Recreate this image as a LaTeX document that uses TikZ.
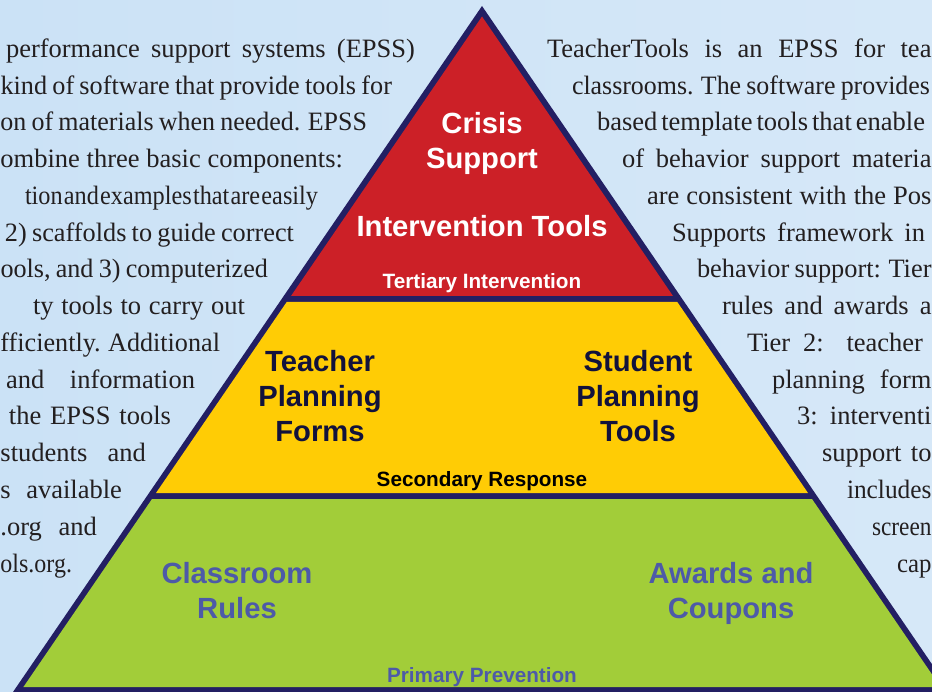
\documentclass[tikz,border=0pt]{standalone}
\usepackage{fontspec}
\setmainfont{Liberation Serif}
\newfontfamily\labelfont{Liberation Sans}[BoldFont={Liberation Sans Bold}]
\definecolor{navy}{RGB}{35,31,99}
\definecolor{tierred}{RGB}{204,32,39}
\definecolor{tieryellow}{RGB}{255,204,5}
\definecolor{tiergreen}{RGB}{162,205,57}
\definecolor{bgleft}{RGB}{203,226,246}
\definecolor{bgright}{RGB}{214,232,248}
\definecolor{bodyink}{RGB}{35,31,32}
\definecolor{dkink}{RGB}{18,18,60}
\definecolor{bluelabel}{RGB}{77,90,168}
\tikzset{
  bodyline/.style={inner sep=0pt,outer sep=0pt,anchor=base west,text=bodyink,font=\fontsize{26.5}{30}\selectfont},
  biglabel/.style={inner sep=0pt,align=center,font=\labelfont\bfseries\fontsize{29.2}{35}\selectfont},
  smalllabel/.style={inner sep=0pt,anchor=base,font=\labelfont\bfseries\fontsize{20.7}{24}\selectfont},
}
\newsavebox{\linebox}
\newlength{\targetwd}
\newcommand{\tightwords}{\spaceskip=0.05em plus 3em\relax}
% fit one line to a width: stretch the spaces, or narrow it when it is too long
\newcommand{\fitline}[1]{%
  \sbox{\linebox}{\spaceskip=0.2em\relax #1}%
  \ifdim\wd\linebox>\targetwd
    \pgfmathsetmacro{\lineratio}{\targetwd/\wd\linebox}%
    \scalebox{\lineratio}[1]{\usebox{\linebox}}%
  \else
    \hbox to \targetwd{\spaceskip=0.2em plus 3em\relax #1}%
  \fi}
% name, left x, right x, line index, text
\newcommand{\textline}[5]{%
  \pgfmathsetmacro{\linebl}{57.5+36.75*#4}%
  \pgfmathsetlength{\targetwd}{(#3-#2)*1pt}%
  \node[bodyline] (#1) at (#2,\linebl) {\fitline{#5}};%
}
\begin{document}
\begin{tikzpicture}[x=1pt,y=-1pt]
\useasboundingbox (0,0) rectangle (932,692);
\shade[left color=bgleft,right color=bgright] (0,0) rectangle (932,692);
\begin{scope}
\clip (0,0) rectangle (932,692);
\fill[navy] (482,6) -- (13,692) -- (951,692) -- cycle;
\fill[tierred] (482,16.5) -- (291,296) -- (673,296) -- cycle;
\fill[tieryellow] (286.7,302) -- (677.3,302) -- (808,493) -- (156,493) -- cycle;
\fill[tiergreen] (152,499) -- (812,499) -- (940.6,687) -- (23.4,687) -- cycle;
\end{scope}
\textline{la}{6}{415}{0}{performance support systems (EPSS)}
\textline{lb}{0.5}{392}{1}{kind of software that provide tools for}
\textline{lc}{0.5}{367}{2}{on of materials when needed. EPSS}
\textline{ld}{0.5}{343}{3}{ombine three basic components:}
\textline{le}{25}{318}{4}{\tightwords tion and examples that are easily}
\textline{lf}{5}{294}{5}{2) scaffolds to guide correct}
\textline{lg}{0.5}{268}{6}{ools, and 3) computerized}
\textline{lh}{33}{245}{7}{ty tools to carry out}
\textline{li}{0.5}{220}{8}{fficiently. Additional}
\textline{lj}{6}{195}{9}{and information}
\textline{lk}{9}{171}{10}{the EPSS tools}
\textline{ll}{0.5}{146}{11}{students and}
\textline{lm}{0.5}{122}{12}{s available}
\textline{ln}{0.5}{97}{13}{.org and}
\textline{lo}{0.5}{72}{14}{ols.org.}
\textline{ra}{547}{931.5}{0}{TeacherTools is an EPSS for tea}
\textline{rb}{572}{930}{1}{classrooms. The software provides}
\textline{rc}{597}{925}{2}{\tightwords based template tools that enable}
\textline{rd}{622}{931.5}{3}{of behavior support materia}
\textline{re}{647}{931.5}{4}{are consistent with the Pos}
\textline{rf}{672}{925}{5}{Supports framework in}
\textline{rg}{697}{931.5}{6}{behavior support: Tier}
\textline{rh}{722}{931.5}{7}{rules and awards a}
\textline{ri}{747}{923}{8}{Tier 2: teacher}
\textline{rj}{772}{931.5}{9}{planning form}
\textline{rk}{797}{931.5}{10}{3: interventi}
\textline{rl}{822}{931.5}{11}{support to}
\textline{rm}{847}{931.5}{12}{includes}
\textline{rn}{872}{931.5}{13}{screen}
\textline{ro}{897}{931.5}{14}{cap}
\node[biglabel,text=white] (crisis) at (482,143) {Crisis\\Support};
\node[biglabel,text=white] (interv) at (482,226) {Intervention Tools};
\node[smalllabel,text=white] (tert) at (482,288.5) {Tertiary Intervention};
\node[biglabel,text=dkink] (teach) at (320,396) {Teacher\\Planning\\Forms};
\node[biglabel,text=dkink] (stud) at (638,396) {Student\\Planning\\Tools};
\node[smalllabel,text=black] (sec) at (482,486) {Secondary Response};
\node[biglabel,text=bluelabel] (rules) at (237,590.5) {Classroom\\Rules};
\node[biglabel,text=bluelabel] (award) at (731,593) {Awards and\\Coupons};
\node[smalllabel,text=bluelabel] (prim) at (482,682) {Primary Prevention};
\end{tikzpicture}
\end{document}
